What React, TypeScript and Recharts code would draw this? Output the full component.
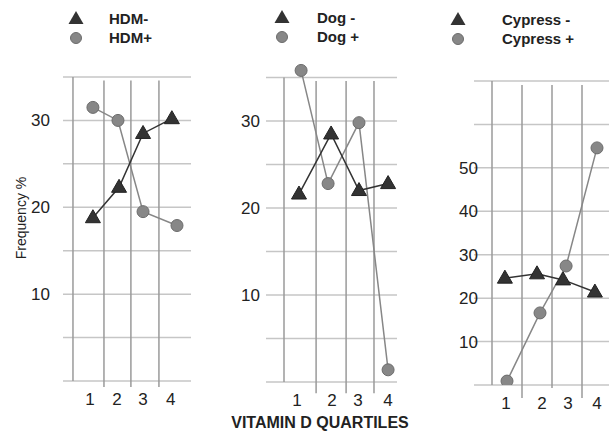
import { LineChart, Line, XAxis, YAxis, CartesianGrid, ReferenceLine } from "recharts";

const quartiles = ["1", "2", "3", "4"];

// HDM panel
const hdmTickX = [1.0, 2.0, 2.97, 4.0];
const hdmMinusX = [1.11, 2.08, 2.97, 4.04];
const hdmMinus = [18.8, 22.3, 28.5, 30.2];
const hdmPlusX = [1.11, 2.04, 2.97, 4.23];
const hdmPlus = [31.5, 30, 19.5, 17.9];

// Dog panel
const dogTickX = [1.03, 2.2, 3.07, 4.07];
const dogMinusX = [1.1, 2.17, 3.1, 4.07];
const dogMinus = [21.6, 28.5, 22, 22.8];
const dogPlusX = [1.17, 2.07, 3.1, 4.07];
const dogPlus = [35.8, 22.8, 29.8, 1.4];

// Cypress panel
const cypTickX = [1.07, 2.27, 3.13, 4.1];
const cypMinusX = [1.03, 2.1, 2.97, 4.03];
const cypMinus = [24.6, 25.6, 24.2, 21.4];
const cypPlusX = [1.1, 2.2, 3.07, 4.1];
const cypPlus = [0.9, 16.6, 27.4, 54.6];

const ticks35 = [0, 5, 10, 15, 20, 25, 30, 35];
const labels35 = [10, 20, 30];
const ticks70 = [0, 10, 20, 30, 40, 50, 60, 70];
const labels70 = [10, 20, 30, 40, 50];

const FONT = "'Liberation Sans', Arial, Helvetica, sans-serif";
const DARK = "#333333";
const GREY = "#878787";

const toRows = (xs: number[], ys: number[]) => xs.map((x, i) => ({ x, y: ys[i] }));

const Triangle = (props: any) => {
  const { cx, cy, index } = props;
  if (cx == null || cy == null) return <g key={`t-${index}`} />;
  return (
    <polygon
      key={`t-${index}`}
      points={`${cx},${cy - 8} ${cx - 7.5},${cy + 5} ${cx + 7.5},${cy + 5}`}
      fill={DARK}
      stroke="#222"
      strokeWidth={1}
    />
  );
};

type VLine = { x: number; y1: number; y2: number };

interface PanelProps {
  left: number;
  width: number;
  margin: { top: number; right: number; bottom: number; left: number };
  yTickMargin: number;
  xDomain: [number, number];
  yDomain: [number, number];
  yTicks: number[];
  yLabels: number[];
  tickX: number[];
  minus: { x: number; y: number }[];
  plus: { x: number; y: number }[];
  vlines: VLine[];
}

function Panel(p: PanelProps) {
  return (
    <div style={{ position: "absolute", left: p.left, top: 0 }}>
      <LineChart width={p.width} height={433} margin={p.margin}>
        <CartesianGrid vertical={false} horizontalValues={p.yTicks} stroke="#c6c6c6" strokeWidth={1.5} />
        <XAxis
          type="number"
          dataKey="x"
          domain={p.xDomain}
          ticks={p.tickX}
          tickFormatter={(v: number) => quartiles[p.tickX.indexOf(v)] ?? ""}
          axisLine={false}
          tickLine={false}
          tickSize={0}
          tickMargin={12}
          height={30}
          allowDataOverflow
          tick={{ fill: "#222", fontSize: 17, fontFamily: FONT }}
        />
        <YAxis
          type="number"
          domain={p.yDomain}
          ticks={p.yTicks}
          tickFormatter={(v: number) => (p.yLabels.includes(v) ? String(v) : "")}
          axisLine={false}
          tickLine={false}
          tickSize={0}
          tickMargin={p.yTickMargin}
          width={50}
          allowDataOverflow
          tick={{ fill: "#222", fontSize: 17, fontFamily: FONT }}
        />
        {p.vlines.map((v, i) => (
          <ReferenceLine
            key={i}
            segment={[
              { x: v.x, y: v.y1 },
              { x: v.x, y: v.y2 },
            ]}
            stroke="#9a9a9a"
            strokeWidth={1.5}
            ifOverflow="visible"
          />
        ))}
        <Line
          data={p.plus}
          dataKey="y"
          stroke={GREY}
          strokeWidth={1.5}
          dot={{ r: 6, fill: GREY, stroke: "#6c6c6c", strokeWidth: 1 }}
          isAnimationActive={false}
        />
        <Line
          data={p.minus}
          dataKey="y"
          stroke={DARK}
          strokeWidth={1.5}
          dot={Triangle}
          isAnimationActive={false}
        />
      </LineChart>
    </div>
  );
}

function LegendBox({ left, top, textLeft, minus, plus }: { left: number; top: number; textLeft: number; minus: string; plus: string }) {
  const text = { position: "absolute" as const, left: textLeft, fontSize: 15, fontWeight: 700, color: "#222", lineHeight: "18px" };
  return (
    <>
      <svg style={{ position: "absolute", left: left - 8, top: top - 10 }} width={16} height={40}>
        <polygon points="8,2 0.5,15 15.5,15" fill={DARK} />
        <circle cx={8} cy={29} r={5.5} fill={GREY} stroke="#6c6c6c" strokeWidth={1} />
      </svg>
      <div style={{ ...text, top: top - 9 }}>{minus}</div>
      <div style={{ ...text, top: top + 10 }}>{plus}</div>
    </>
  );
}

export default function App() {
  return (
    <div style={{ position: "absolute", left: 0, top: 0, width: 609, height: 433, background: "#fff", fontFamily: FONT, overflow: "hidden" }}>
      <Panel
        left={0}
        width={200}
        margin={{ top: 77, right: 9, bottom: 22, left: 13 }}
        yTickMargin={13}
        xDomain={[0, 4.75]}
        yDomain={[0, 35]}
        yTicks={ticks35}
        yLabels={labels35}
        tickX={hdmTickX}
        minus={toRows(hdmMinusX, hdmMinus)}
        plus={toRows(hdmPlusX, hdmPlus)}
        vlines={[
          { x: 0.37, y1: 35, y2: 0 },
          { x: 1.52, y1: 34.6, y2: -0.7 },
          { x: 2.52, y1: 34.6, y2: -0.7 },
          { x: 3.56, y1: 34.6, y2: -0.7 },
        ]}
      />
      <Panel
        left={200}
        width={200}
        margin={{ top: 60, right: 3, bottom: 21, left: 16 }}
        yTickMargin={6}
        xDomain={[0, 4.367]}
        yDomain={[0, 37]}
        yTicks={ticks35}
        yLabels={labels35}
        tickX={dogTickX}
        minus={toRows(dogMinusX, dogMinus)}
        plus={toRows(dogPlusX, dogPlus)}
        vlines={[
          { x: 0.6, y1: 35, y2: 0 },
          { x: 1.67, y1: 34.6, y2: -1.3 },
          { x: 2.67, y1: 34.6, y2: -1.3 },
          { x: 3.6, y1: 34.6, y2: -1.3 },
        ]}
      />
      <Panel
        left={400}
        width={209}
        margin={{ top: 81, right: 0, bottom: 18, left: 24 }}
        yTickMargin={-4}
        xDomain={[0, 4.5]}
        yDomain={[0, 70]}
        yTicks={ticks70}
        yLabels={labels70}
        tickX={cypTickX}
        minus={toRows(cypMinusX, cypMinus)}
        plus={toRows(cypPlusX, cypPlus)}
        vlines={[
          { x: 0.6, y1: 70, y2: 0 },
          { x: 1.6, y1: 69.1, y2: -3 },
          { x: 2.6, y1: 69.1, y2: -0.7 },
          { x: 3.6, y1: 69.1, y2: -3 },
        ]}
      />
      <LegendBox left={76} top={19} textLeft={109} minus="HDM-" plus="HDM+" />
      <LegendBox left={282} top={18} textLeft={317} minus="Dog -" plus="Dog +" />
      <LegendBox left={458} top={20} textLeft={502} minus="Cypress -" plus="Cypress +" />
      <div
        style={{ position: "absolute", left: 21, top: 218, transform: "translate(-50%, -50%) rotate(-90deg)", fontSize: 14, color: "#222", whiteSpace: "nowrap" }}
      >
        Frequency %
      </div>
      <div style={{ position: "absolute", left: 0, width: 640, top: 414, textAlign: "center", fontSize: 16, fontWeight: 700, color: "#222", whiteSpace: "nowrap" }}>
        VITAMIN D QUARTILES
      </div>
    </div>
  );
}
